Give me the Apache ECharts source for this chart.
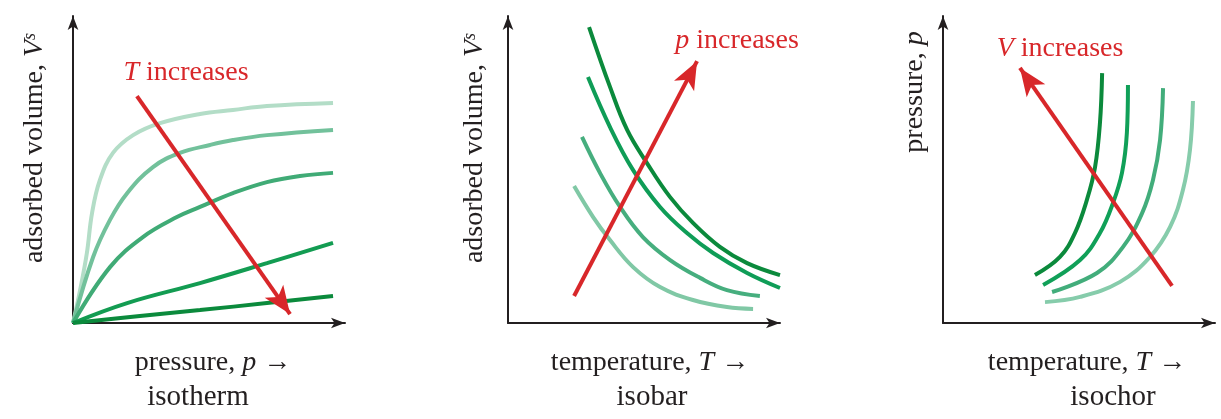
<!DOCTYPE html>
<html>
<head>
<meta charset="utf-8">
<script src="https://cdn.jsdelivr.net/npm/echarts@6/dist/echarts.min.js"></script>
<style>
  html, body { margin: 0; padding: 0; background: #fff; }
  #main { width: 1221px; height: 419px; }
</style>
</head>
<body>
<div id="main"></div>
<script>
// 数据：三张示意图，横纵坐标都取 0-100 的相对单位

// isotherm：不同温度下 V^s - p，温度从低到高
var isoT1 = [[0, 0], [2.6, 10.7], [5.1, 22.8], [7.0, 35.8], [9.9, 46.6], [14.7, 55.4], [22.1, 61.2], [32.0, 65.1], [46.7, 68.1], [58.8, 69.4], [71.3, 70.7], [95.6, 71.7]];
var isoT2 = [[0, 0], [7.4, 21.5], [13.6, 33.6], [19.9, 42.3], [29.4, 50.8], [39.3, 55.4], [50.4, 58.0], [58.8, 59.6], [71.3, 61.2], [95.6, 62.9]];
var isoT3 = [[0, 0], [13.6, 18.2], [25.7, 28.0], [38.2, 34.5], [46.7, 37.8], [58.8, 42.3], [71.3, 45.9], [83.5, 47.9], [95.6, 48.9]];
var isoT4 = [[0, 0], [19.9, 6.5], [46.7, 13.0], [71.3, 19.5], [95.6, 26.1]];
var isoT5 = [[0, 0], [24.6, 2.3], [46.7, 4.2], [71.3, 6.5], [95.6, 8.8]];
var isoArrow = [[23.5, 73.9], [79.8, 2.9]];

// isobar：不同压力下 V^s - T，压力从高到低
var barP1 = [[29.8, 96.4], [37.5, 76.9], [43.8, 62.9], [51.1, 52.1], [59.6, 41.0], [68.0, 32.6], [77.9, 24.8], [87.9, 19.5], [100, 15.6]];
var barP2 = [[29.4, 80.1], [37.5, 63.8], [46.0, 49.8], [55.9, 37.8], [65.8, 29.3], [75.4, 22.8], [87.9, 16.3], [100, 11.4]];
var barP3 = [[27.2, 60.6], [33.8, 48.9], [41.2, 37.8], [49.6, 28.0], [59.6, 20.5], [70.6, 14.7], [80.5, 10.7], [92.6, 8.8]];
var barP4 = [[24.3, 44.6], [31.3, 34.5], [37.5, 27.0], [46.0, 18.2], [55.9, 11.7], [68.0, 7.5], [80.5, 5.2], [90.1, 4.6]];
var barArrow = [[24.3, 8.8], [69.5, 85.3]];

// isochor：不同体积下 p - T，体积从小到大
var chorV1 = [[33.8, 15.6], [43.0, 21.5], [48.5, 29.3], [52.9, 40.1], [55.9, 50.8], [57.7, 65.1], [58.5, 81.4]];
var chorV2 = [[36.8, 12.4], [50.4, 20.5], [57.7, 29.3], [62.5, 39.1], [65.8, 48.9], [67.6, 61.9], [68.0, 77.5]];
var chorV3 = [[40.1, 10.1], [56.6, 16.3], [66.2, 24.8], [73.2, 35.8], [77.2, 46.6], [79.8, 59.6], [80.9, 76.5]];
var chorV4 = [[37.5, 6.8], [50.4, 8.5], [65.1, 13.4], [76.1, 21.5], [83.5, 31.3], [88.2, 43.3], [90.8, 56.4], [91.9, 72.3]];
var chorArrow = [[84.2, 12.1], [28.3, 83.1]];

var isoColors = ['#b3ddc7', '#72c19b', '#40ab76', '#139c52', '#0b8a3c'];
var barColors = ['#0b8a3c', '#0f9d57', '#46ae7e', '#80c8a5'];
var chorColors = ['#0b8a3c', '#10a058', '#42ad7b', '#86ccab'];

var font = '"Liberation Serif", "Times New Roman", serif'
    , ink = '#231f20'
    , red = '#d8272a';

var chart = echarts.init(document.getElementById('main'));

// 坐标轴：只画带箭头的轴线
function axis(idx) {
    return {
        type: 'value', gridIndex: idx, min: 0, max: 100,
        axisLine: {
            show: true, onZero: false,
            symbol: ['none', 'arrow'], symbolSize: [8, 14],
            lineStyle: { color: ink, width: 2 }
        },
        axisTick: { show: false },
        axisLabel: { show: false },
        splitLine: { show: false }
    };
}

function curve(idx, data, color) {
    return {
        type: 'line', xAxisIndex: idx, yAxisIndex: idx,
        data: data, smooth: 0.4, symbol: 'none', silent: true,
        lineStyle: { color: color, width: 4, cap: 'butt' }
    };
}

function arrow(idx, pts) {
    return {
        type: 'lines', coordinateSystem: 'cartesian2d', xAxisIndex: idx, yAxisIndex: idx,
        symbol: ['none', 'arrow'], symbolSize: [0, [17, 28]], silent: true,
        lineStyle: { color: red, width: 4, opacity: 1, curveness: 0 },
        itemStyle: { color: red },
        data: [{ coords: pts }], z: 5
    };
}

function txt(x, y, text, opt) {
    opt = opt || {};
    var size = opt.size || 28;
    return {
        type: 'text', x: x, y: y, rotation: opt.rot || 0, z: 10,
        style: {
            text: text, fontSize: size, fontFamily: font, fill: opt.color || ink,
            align: 'center', verticalAlign: 'middle',
            rich: {
                n: { fontSize: size, fontFamily: font, fill: opt.color || ink },
                i: { fontSize: size, fontFamily: font, fontStyle: 'italic', fill: opt.color || ink },
                s: { fontSize: 18, fontFamily: font, fontStyle: 'italic', fill: ink, verticalAlign: 'top' }
            }
        }
    };
}

var series = [];
[isoT1, isoT2, isoT3, isoT4, isoT5].forEach(function (d, k) { series.push(curve(0, d, isoColors[k])); });
[barP1, barP2, barP3, barP4].forEach(function (d, k) { series.push(curve(1, d, barColors[k])); });
[chorV1, chorV2, chorV3, chorV4].forEach(function (d, k) { series.push(curve(2, d, chorColors[k])); });
series.push(arrow(0, isoArrow), arrow(1, barArrow), arrow(2, chorArrow));

var option = {
    animation: false,
    backgroundColor: '#fff',
    grid: [
        { left: 73, top: 16, width: 272, height: 307 },
        { left: 508, top: 16, width: 272, height: 307 },
        { left: 943, top: 16, width: 272, height: 307 }
    ],
    xAxis: [axis(0), axis(1), axis(2)],
    yAxis: [axis(0), axis(1), axis(2)],
    series: series,
    graphic: [
        txt(35, 148, '{n|adsorbed volume, }{i|V}{s|s}', { rot: Math.PI / 2 }),
        txt(186, 73, '{i|T}{n| increases}', { color: red }),
        txt(213, 363, '{n|pressure, }{i|p}{n| →}'),
        txt(198, 397, 'isotherm', { size: 29 }),

        txt(475, 148, '{n|adsorbed volume, }{i|V}{s|s}', { rot: Math.PI / 2 }),
        txt(737, 41, '{i|p}{n| increases}', { color: red }),
        txt(650, 363, '{n|temperature, }{i|T}{n| →}'),
        txt(652, 397, 'isobar', { size: 29 }),

        txt(915, 92, '{n|pressure, }{i|p}', { rot: Math.PI / 2 }),
        txt(1060, 49, '{i|V}{n| increases}', { color: red }),
        txt(1087, 363, '{n|temperature, }{i|T}{n| →}'),
        txt(1113, 397, 'isochor', { size: 29 })
    ]
};

chart.setOption(option);
</script>
</body>
</html>
